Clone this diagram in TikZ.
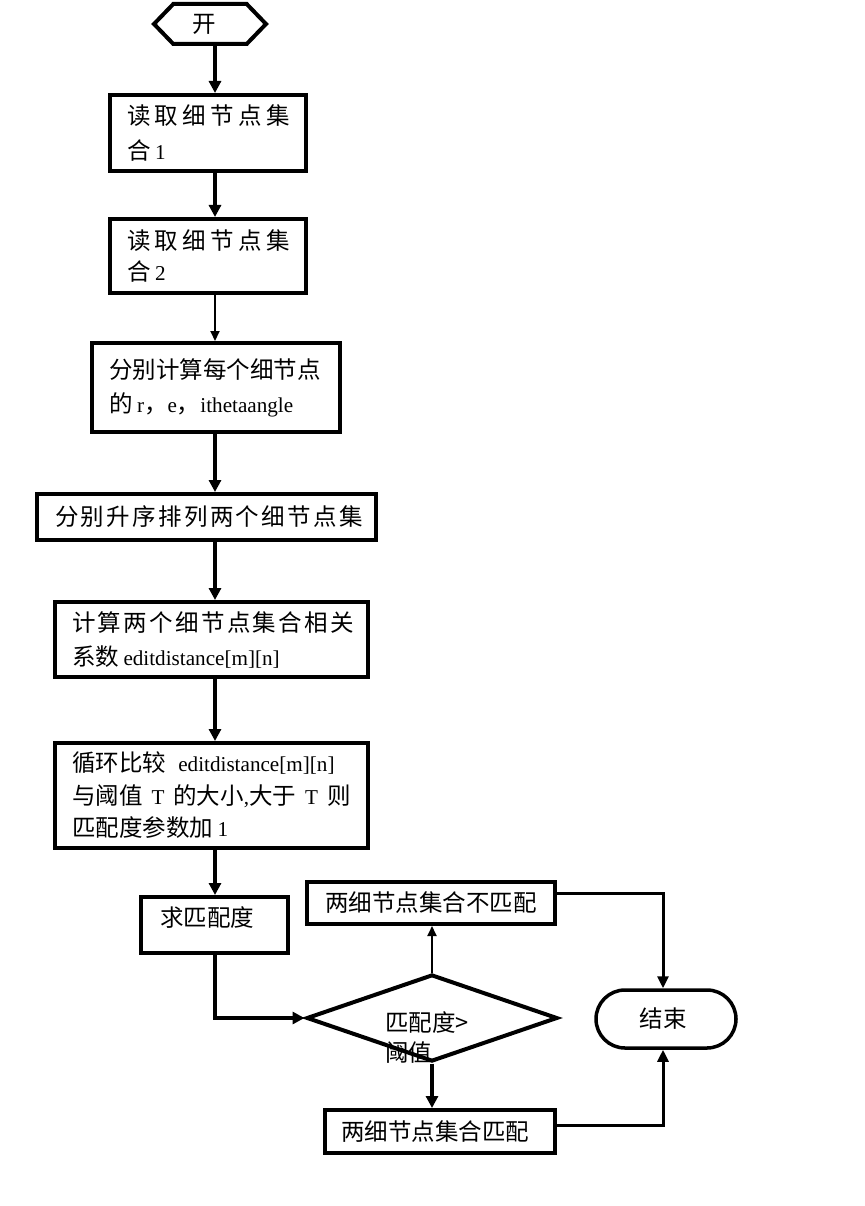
\documentclass[tikz,border=0pt]{standalone}
\usepackage{fontspec}
\setmainfont{Noto Sans CJK SC}
\newfontfamily\lat{Liberation Serif}[Scale=0.9]
\newfontfamily\cjksp{Noto Sans CJK SC}[LetterSpace=10]
\newcommand{\gp}{\hspace{4.5pt}}
\newcommand{\gq}{\hspace{9pt}}
\usetikzlibrary{shapes.geometric,shapes.symbols,arrows.meta}
\begin{document}
\begin{tikzpicture}[x=1pt,y=-1pt,
  every node/.style={font=\fontsize{23.5}{34}\selectfont},
  box/.style={draw,line width=4pt,align=left,inner xsep=17pt,inner ysep=0pt},
  cbox/.style={draw,line width=4pt,align=center,inner sep=0pt},
  arr/.style={line width=4pt,-{Triangle[length=12pt,width=12pt]}},
  sarr/.style={line width=3pt,-{Triangle[length=12pt,width=11pt]}},
  tarr/.style={line width=2pt,-{Triangle[length=10pt,width=9pt]}}]
\useasboundingbox (0,0) rectangle (864,1206);
\coordinate (spine) at (215,0);
\node[signal,signal to=west and east,signal pointer angle=92,draw,line width=4pt,minimum width=112pt,minimum height=40pt,inner sep=0pt] (start) at (210,24) {\hspace*{-12pt}开};
\node[box,text width=162pt,minimum height=76pt,font=\fontsize{23.5}{35}\selectfont] (b1) at (208,133) {\mbox{读\gp 取\gp 细\gp 节\gp 点\gp 集}\\合\gp{\lat 1}};
\node[box,text width=162pt,minimum height=74pt,font=\fontsize{23.5}{32}\selectfont] (b2) at (208,256) {\mbox{读\gp 取\gp 细\gp 节\gp 点\gp 集}\\合\gp{\lat 2}};
\node[box,text width=214pt,minimum height=89pt] (b3) at (216,387.5) {分别计算每个细节点\\的\gp{\lat r}，{\lat e}，{\lat ithetaangle}};
\node[box,text width=303pt,minimum height=46pt,inner xsep=18pt] (b4) at (206.5,517) {\cjksp 分别升序排列两个细节点集};
\node[box,text width=279pt,minimum height=75pt] (b5) at (211.5,639.5) {{\cjksp 计算两个细节点集合相关}\\系数\gp{\lat editdistance[m][n]}};
\node[box,text width=279pt,minimum height=105pt,font=\fontsize{23.5}{32.5}\selectfont] (b6) at (211.5,795.5) {循环比较\gp{\lat\ editdistance[m][n]}\\与阈值\gq{\lat T}\gq 的大小{\lat ,}大于\gq{\lat T}\gq 则\\匹配度参数加\gp{\lat 1}};
\node[box,text width=109pt,minimum height=56pt,inner xsep=19pt,text depth=16pt] (b7) at (214.5,925) {求匹配度};
\node[diamond,draw,line width=4pt,minimum width=251pt,minimum height=87pt,inner sep=0pt] (dia) at (432,1018) {};
\node[anchor=west,align=left,inner sep=0pt,font=\fontsize{23.5}{30}\selectfont] (dtext) at (385,1037) {匹配度>\\阈值};
\node[cbox,minimum width=248pt,minimum height=42pt] (b8) at (431,903) {两细节点集合不匹配};
\node[cbox,minimum width=230pt,minimum height=43pt] (b9) at (440,1131.5) {\hspace*{-10pt}两细节点集合匹配};
\node[draw,line width=3.5pt,rounded corners=29pt,minimum width=140pt,minimum height=58pt,inner sep=0pt] (end) at (666,1019) {\hspace*{-6pt}结束};
\draw[arr] (start.south -| spine) -- (b1.north -| spine);
\draw[arr] (b1.south -| spine) -- (b2.north -| spine);
\draw[tarr] (b2.south -| spine) -- (b3.north -| spine);
\draw[arr] (b3.south -| spine) -- (b4.north -| spine);
\draw[arr] (b4.south -| spine) -- (b5.north -| spine);
\draw[arr] (b5.south -| spine) -- (b6.north -| spine);
\draw[arr] (b6.south -| spine) -- (b7.north -| spine);
\draw[arr] (b7.south) |- (dia.west);
\draw[tarr] (dia.north) -- (dia.north |- b8.south);
\draw[arr] (dia.south) -- (dia.south |- b9.north);
\draw[sarr] ([yshift=10pt]b8.east) -| ([xshift=-3pt]end.north);
\draw[sarr] ([yshift=6pt]b9.east) -| ([xshift=-3pt]end.south);
\end{tikzpicture}
\end{document}
